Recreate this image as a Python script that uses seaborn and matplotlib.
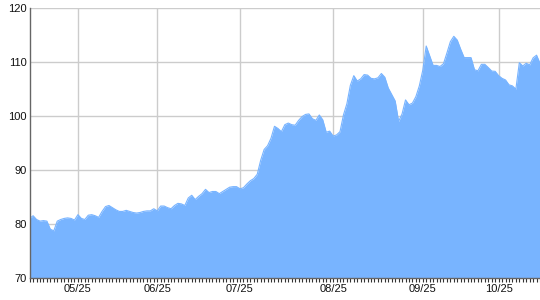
import matplotlib
matplotlib.use("Agg")
import matplotlib.pyplot as plt
import seaborn as sns
import numpy as np
import pandas as pd
from matplotlib.ticker import FixedLocator, MultipleLocator

values = [
    81.0, 81.5, 80.8, 80.5, 80.6, 80.5, 79.0, 78.7, 80.5, 80.8,
    81.0, 81.1, 81.0, 80.7, 81.7, 81.0, 80.8, 81.6, 81.7, 81.5,
    81.2, 82.3, 83.2, 83.4, 83.0, 82.6, 82.3, 82.3, 82.5, 82.3,
    82.1, 82.0, 82.1, 82.3, 82.4, 82.4, 82.8, 82.4, 83.3, 83.3,
    83.0, 82.8, 83.4, 83.8, 83.7, 83.4, 84.8, 85.3, 84.5, 85.1,
    85.6, 86.4, 85.8, 86.0, 86.0, 85.6, 86.0, 86.4, 86.8, 86.9,
    86.9, 86.5, 86.7, 87.4, 88.0, 88.4, 89.2, 91.8, 93.8, 94.5,
    95.9, 98.1, 97.7, 97.1, 98.4, 98.7, 98.4, 98.3, 99.2, 99.9,
    100.3, 100.4, 99.5, 99.2, 100.2, 99.3, 97.0, 97.2, 96.3, 96.5,
    97.1, 100.2, 102.3, 105.7, 107.5, 106.5, 106.9, 107.7, 107.6, 107.0,
    106.9, 107.1, 107.9, 107.2, 105.2, 104.0, 102.8, 99.0, 100.4, 103.0,
    102.1, 102.4, 103.6, 105.6, 108.5, 113.0, 111.2, 109.4, 109.4, 109.2,
    109.7, 111.7, 113.8, 114.8, 114.1, 112.4, 110.85, 110.85, 110.85, 108.6,
    108.4, 109.6, 109.6, 109.0, 108.35, 108.3, 107.5, 107.0, 106.7, 105.8,
    105.6, 105.0, 109.9, 109.3, 109.8, 109.5, 110.8, 111.3, 109.8,
]
tick_index = [14, 37, 61, 88, 114, 136]
tick_labels = ["05/25", "06/25", "07/25", "08/25", "09/25", "10/25"]
y_ticks = [70, 80, 90, 100, 110, 120]

df = pd.DataFrame({"i": np.arange(len(values)), "v": values})

sns.set_theme(style="white")
plt.rcParams["font.family"] = ["Liberation Sans", "DejaVu Sans"]

fig = plt.figure(figsize=(5.4, 3.0), dpi=100)
ax = fig.add_axes([29.65 / 540, 1 - 277.7 / 300, 1 - 29.65 / 540, (277.7 - 8.3) / 300])

fill_color = "#78b4ff"
sns.lineplot(data=df, x="i", y="v", ax=ax, color=fill_color, linewidth=0.8)
ax.fill_between(df["i"], df["v"], 70, color=fill_color, linewidth=0, zorder=2)

ax.set_xlim(0, len(values) - 1)
ax.set_ylim(70, 120)
ax.set_xlabel("")
ax.set_ylabel("")

ax.xaxis.set_major_locator(FixedLocator(tick_index))
ax.set_xticklabels(tick_labels, fontsize=8, color="#111111")
ax.xaxis.set_minor_locator(MultipleLocator(1))
ax.set_yticks(y_ticks)
ax.set_yticklabels([str(t) for t in y_ticks], fontsize=8, color="#111111")

ax.grid(True, which="major", color="#cccccc", linewidth=1.0, zorder=0)
ax.set_axisbelow(True)

ax.tick_params(axis="x", which="both", direction="out", length=3, width=0.8,
               color="#333333", pad=1.8, bottom=True)
ax.tick_params(axis="y", which="both", length=0, pad=2)

for s in ["top", "right"]:
    ax.spines[s].set_visible(False)
for s in ["left", "bottom"]:
    ax.spines[s].set_color("#666666")
    ax.spines[s].set_linewidth(1.0)
    ax.spines[s].set_zorder(5)

fig.savefig("out.png", dpi=100)
